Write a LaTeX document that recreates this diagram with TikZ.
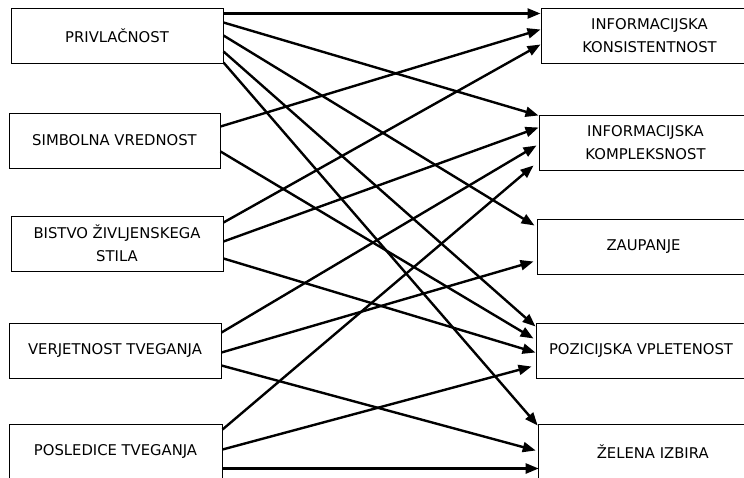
\documentclass[tikz,border=0pt]{standalone}
\usepackage{fontspec}
\setmainfont{DejaVu Sans}
\usetikzlibrary{arrows.meta}

\begin{document}
\begin{tikzpicture}[x=1pt,y=-1pt,
  box/.style={draw, line width=1pt, inner sep=0pt, minimum height=55pt,
    align=center, font=\fontsize{14.8}{22.7}\selectfont},
  conn/.style={line width=2.4pt, -{Triangle[length=13pt,width=10pt]}}]
\useasboundingbox (0,0) rectangle (744,477);
\fill[white] (0,0) rectangle (744,477);
\clip (0,0) rectangle (744,477);

% antecedents (left column)
\node[box, minimum width=212pt] (priv) at (117,35.5) {PRIVLAČNOST};
\node[box, minimum width=211pt] (simb) at (114.5,140.5) {SIMBOLNA VREDNOST};
\node[box, minimum width=212pt] (bist) at (117,243.5) {BISTVO ŽIVLJENSKEGA\\STILA};
\node[box, minimum width=212pt] (verj) at (115,350.5) {VERJETNOST TVEGANJA};
\node[box, minimum width=213pt] (posl) at (115.5,451.5) {POSLEDICE TVEGANJA};

% outcomes (right column)
\node[box, minimum width=217pt] (ik) at (649.5,35.5) {INFORMACIJSKA\\KONSISTENTNOST};
\node[box, minimum width=213pt] (ikomp) at (645.5,142.5) {INFORMACIJSKA\\KOMPLEKSNOST};
\node[box, minimum width=213pt] (zaup) at (643.5,246.5) {ZAUPANJE};
\node[box, minimum width=210pt] (poz) at (641,350.5) {POZICIJSKA VPLETENOST};
\node[box, minimum width=229pt] (zel) at (652.7,451.5) {ŽELENA IZBIRA};

% PRIVLAČNOST
\draw[conn] ([yshift=-6pt]priv.north east) -- ([yshift=-6pt]ik.north west);
\draw[conn] ([yshift=-15pt]priv.north east) -- ([yshift=-1pt]ikomp.north west);
\draw[conn] ([yshift=-28pt]priv.north east) -- ([yshift=-7pt,xshift=-2pt]zaup.north west);
\draw[conn] ([yshift=-44pt]priv.north east) -- ([yshift=-4pt]poz.north west);
\draw[conn] ([yshift=-55pt]priv.north east) -- ([yshift=-2pt]zel.north west);
% SIMBOLNA VREDNOST
\draw[conn] ([yshift=-14pt]simb.north east) -- ([yshift=-22pt]ik.north west);
\draw[conn] ([yshift=-39pt]simb.north east) -- ([yshift=-16pt,xshift=-2pt]poz.north west);
% BISTVO ŽIVLJENSKEGA STILA
\draw[conn] ([yshift=-7pt]bist.north east) -- ([yshift=-37pt]ik.north west);
\draw[conn] ([yshift=-26pt]bist.north east) -- ([yshift=-13pt]ikomp.north west);
\draw[conn] ([yshift=-43pt]bist.north east) -- ([yshift=-30pt]poz.north west);
% VERJETNOST TVEGANJA
\draw[conn] ([yshift=-10pt]verj.north east) -- ([yshift=-31pt,xshift=-2pt]ikomp.north west);
\draw[conn] ([yshift=-30pt]verj.north east) -- ([yshift=-43pt,xshift=-3pt]zaup.north west);
\draw[conn] ([yshift=-43pt]verj.north east) -- ([yshift=-27pt,xshift=-2pt]zel.north west);
% POSLEDICE TVEGANJA
\draw[conn] ([yshift=-6pt]posl.north east) -- ([yshift=-51pt,xshift=-5pt]ikomp.north west);
\draw[conn] ([yshift=-26pt]posl.north east) -- ([yshift=-44pt,xshift=-4pt]poz.north west);
\draw[conn] ([yshift=-45pt]posl.north east) -- ([yshift=-45pt,xshift=1pt]zel.north west);
\end{tikzpicture}
\end{document}
